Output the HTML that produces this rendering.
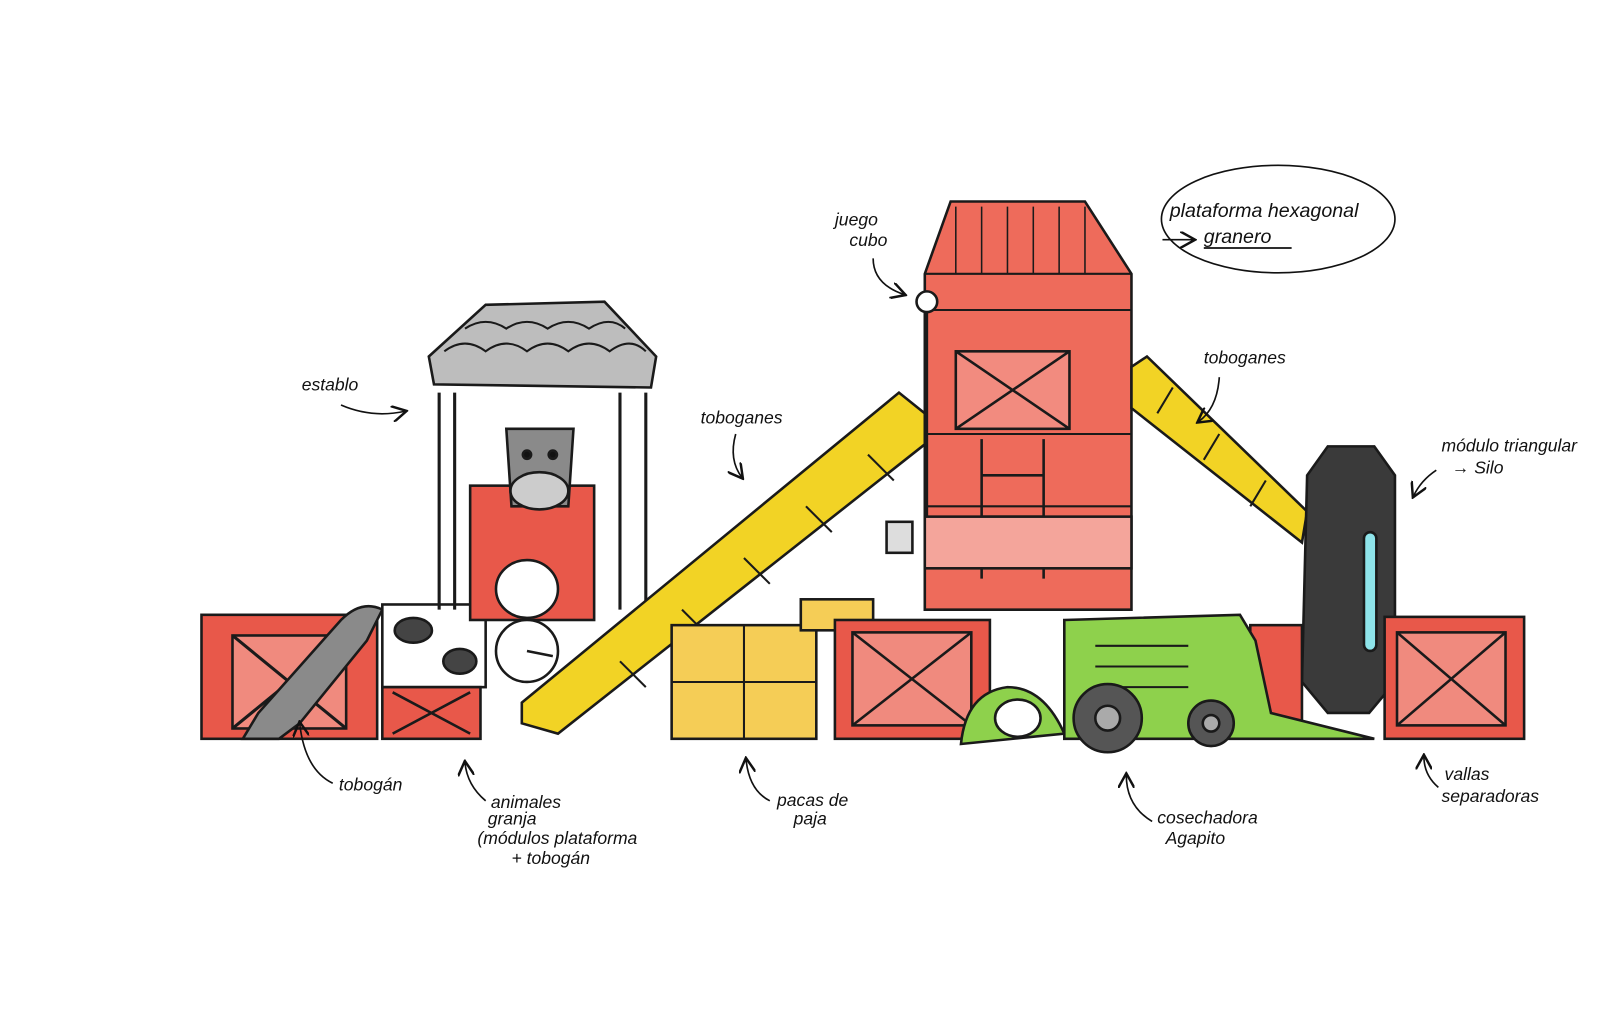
<!DOCTYPE html>
<html><head><meta charset="utf-8"><style>
html,body{margin:0;padding:0;background:#fff}
svg{display:block}
text{font-family:"Liberation Sans",sans-serif;font-style:italic;font-size:17px;fill:#111}
</style></head><body>
<svg width="1612" height="1015" viewBox="0 0 1612 1015" xmlns="http://www.w3.org/2000/svg">
<defs>
<marker id="a" markerWidth="10" markerHeight="10" refX="8" refY="5" orient="auto"><path d="M0,0 L9,5 L0,10" fill="none" stroke="#111" stroke-width="1.5"/></marker>
</defs>
<g transform="scale(1.0333)">
<g stroke="#1a1a1a" stroke-width="2.5">
<rect x="195" y="595" width="170" height="120" fill="#e8584a"/>
<rect x="225" y="615" width="110" height="90" fill="#f08a7e"/>
<path d="M225,615 L335,705 M335,615 L225,705" stroke-width="3"/>
<path d="M235,715 L250,690 L330,600 Q350,580 370,590 L355,620 L290,700 L270,715 Z" fill="#8a8a8a"/>
<rect x="370" y="585" width="100" height="80" fill="#fff"/>
<ellipse cx="400" cy="610" rx="18" ry="12" fill="#444"/><ellipse cx="445" cy="640" rx="16" ry="12" fill="#444"/>
<rect x="370" y="665" width="95" height="50" fill="#e8584a"/>
<path d="M380,670 L455,710 M455,670 L380,710"/>
<path d="M425,380 V590 M440,380 V590 M600,380 V590 M625,380 V590" stroke-width="3"/>
<rect x="455" y="470" width="120" height="130" fill="#e8584a"/>
<path d="M415,345 L470,295 L585,292 L635,345 L630,375 L420,372 Z" fill="#bdbdbd"/>
<path d="M430,340 Q450,325 470,340 Q490,325 510,340 Q530,325 550,340 Q570,325 590,340 Q610,325 625,340 M450,318 Q470,305 490,318 Q510,305 530,318 Q550,305 570,318 Q590,305 605,318" fill="none" stroke-width="2"/>
<path d="M490,415 L555,415 L550,490 L495,490 Z" fill="#8a8a8a"/>
<ellipse cx="522" cy="475" rx="28" ry="18" fill="#ccc"/>
<circle cx="510" cy="440" r="4" fill="#111"/><circle cx="535" cy="440" r="4" fill="#111"/>
<ellipse cx="510" cy="570" rx="30" ry="28" fill="#fff"/>
<circle cx="510" cy="630" r="30" fill="#fff"/>
<path d="M510,630 L535,635"/>
<path d="M505,700 L505,680 L870,380 L895,400 L895,430 L540,710 Z" fill="#f2d325"/>
<path d="M600,640 L625,665 M660,590 L685,615 M720,540 L745,565 M780,490 L805,515 M840,440 L865,465" stroke-width="2"/>
<rect x="650" y="605" width="140" height="110" fill="#f5cd56"/>
<path d="M650,660 H790 M720,605 V715" stroke-width="2"/>
<rect x="775" y="580" width="70" height="30" fill="#f5cd56"/>
<path d="M920,195 L1050,195 L1095,265 L1095,590 L895,590 L895,265 Z" fill="#ee6b5b"/>
<path d="M895,265 H1095 M895,300 H1095 M895,420 H1095 M895,490 H1095" stroke-width="2"/>
<path d="M925,200 V265 M950,200 V265 M975,200 V265 M1000,200 V265 M1025,200 V265 M1050,200 V265" stroke-width="1.5"/>
<rect x="925" y="340" width="110" height="75" fill="#f28b7f"/>
<path d="M925,340 L1035,415 M1035,340 L925,415"/>
<path d="M950,425 V560 M1010,425 V560 M950,460 H1010 M950,500 H1010 M950,530 H1010"/>
<rect x="895" y="500" width="200" height="50" fill="#f4a59b"/>
<circle cx="897" cy="292" r="10" fill="#fff"/>
<path d="M897,302 V500"/>
<rect x="858" y="505" width="25" height="30" fill="#ddd"/>
<path d="M1095,355 L1110,345 L1265,495 L1260,525 L1095,395 Z" fill="#f2d325"/>
<path d="M1135,375 L1120,400 M1180,420 L1165,445 M1225,465 L1210,490" stroke-width="2"/>
<path d="M1265,460 L1285,432 L1330,432 L1350,460 L1350,660 L1325,690 L1285,690 L1260,660 Z" fill="#3a3a3a"/>
<rect x="1320" y="515" width="12" height="115" rx="6" fill="#8ee4ea"/>
<rect x="808" y="600" width="150" height="115" fill="#e8584a"/>
<rect x="825" y="612" width="115" height="90" fill="#f08a7e"/>
<path d="M825,612 L940,702 M940,612 L825,702"/>
<rect x="1340" y="597" width="135" height="118" fill="#e8584a"/>
<rect x="1352" y="612" width="105" height="90" fill="#f08a7e"/>
<path d="M1352,612 L1457,702 M1457,612 L1352,702"/>
<rect x="1210" y="605" width="50" height="100" fill="#e8584a"/>
<path d="M930,720 Q935,670 975,665 Q1010,665 1030,710 Z" fill="#8ed14c"/>
<ellipse cx="985" cy="695" rx="22" ry="18" fill="#fff"/>
<path d="M1030,600 L1200,595 L1215,620 L1230,690 L1330,715 L1030,715 Z" fill="#8ed14c"/>
<path d="M1060,625 L1150,625 M1060,645 L1150,645 M1060,665 L1150,665" stroke-width="2"/>
<circle cx="1072" cy="695" r="33" fill="#555"/><circle cx="1072" cy="695" r="12" fill="#aaa"/>
<circle cx="1172" cy="700" r="22" fill="#555"/><circle cx="1172" cy="700" r="8" fill="#aaa"/>
</g>
<g fill="none" stroke="#111" stroke-width="1.6">
<ellipse cx="1237" cy="212" rx="113" ry="52"/>
<path d="M330,392 Q360,405 392,398" marker-end="url(#a)"/>
<path d="M322,758 Q295,745 290,700" marker-end="url(#a)"/>
<path d="M470,775 Q452,760 450,738" marker-end="url(#a)"/>
<path d="M712,420 Q705,445 718,462" marker-end="url(#a)"/>
<path d="M745,775 Q725,765 722,735" marker-end="url(#a)"/>
<path d="M845,250 Q845,275 875,285" marker-end="url(#a)"/>
<path d="M1180,365 Q1178,395 1160,408" marker-end="url(#a)"/>
<path d="M1390,455 Q1375,465 1368,480" marker-end="url(#a)"/>
<path d="M1115,795 Q1090,780 1090,750" marker-end="url(#a)"/>
<path d="M1392,762 Q1378,750 1378,732" marker-end="url(#a)"/>
<path d="M1125,232 H1155" marker-end="url(#a)"/>
<path d="M1165,240 H1250"/>
</g>
<text x="292" y="378">establo</text>
<text x="328" y="765">tobogán</text>
<text x="475" y="782">animales</text>
<text x="472" y="798">granja</text>
<text x="462" y="817">(módulos plataforma</text>
<text x="495" y="836">+ tobogán</text>
<text x="678" y="410">toboganes</text>
<text x="752" y="780">pacas de</text>
<text x="768" y="798">paja</text>
<text x="808" y="218">juego</text>
<text x="822" y="238">cubo</text>
<text x="1132" y="210" style="font-size:19px">plataforma hexagonal</text>
<text x="1165" y="235" style="font-size:19px">granero</text>
<text x="1165" y="352">toboganes</text>
<text x="1395" y="437">módulo triangular</text>
<text x="1405" y="458">→ Silo</text>
<text x="1120" y="797">cosechadora</text>
<text x="1128" y="817">Agapito</text>
<text x="1398" y="755">vallas</text>
<text x="1395" y="776">separadoras</text>
</g>
</svg>
</body></html>
